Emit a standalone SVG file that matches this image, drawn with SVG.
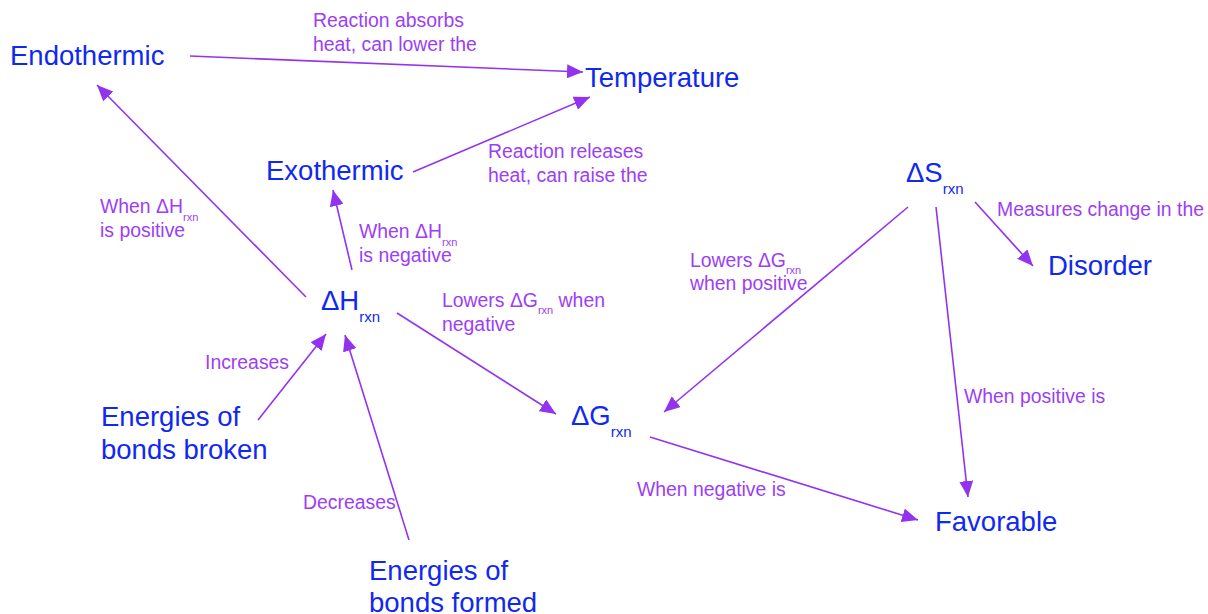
<svg xmlns="http://www.w3.org/2000/svg" width="1208" height="614" viewBox="0 0 1208 614">
<defs>
<style>
.n{font-family:"Liberation Sans",Arial,sans-serif;font-size:27.5px;fill:#1029f0}
.ns{font-size:15px}
.l{font-family:"Liberation Sans",Arial,sans-serif;font-size:19.4px;fill:#9c3ef5}
.ls{font-size:11px}
.e{stroke:#9333f0;stroke-width:1.6;fill:none;marker-end:url(#a)}
</style>
<marker id="a" markerUnits="userSpaceOnUse" markerWidth="18" markerHeight="14" refX="16" refY="7" orient="auto"><path d="M0,0 L16,7 L0,14 Z" fill="#9333f0"/></marker>
</defs>
<rect width="1208" height="614" fill="#fff"/>
<g id="connectors">
<line class="e" x1="190" y1="56" x2="583" y2="72"/>
<line class="e" x1="413" y1="172" x2="590" y2="97"/>
<line class="e" x1="306" y1="297" x2="97" y2="85"/>
<line class="e" x1="352" y1="270" x2="333" y2="190"/>
<line class="e" x1="397" y1="313" x2="556" y2="414"/>
<line class="e" x1="908" y1="207" x2="664" y2="412"/>
<line class="e" x1="975" y1="202" x2="1033" y2="266"/>
<line class="e" x1="936" y1="207" x2="968" y2="497"/>
<line class="e" x1="650" y1="437" x2="918" y2="520"/>
<line class="e" x1="258" y1="420" x2="326" y2="334"/>
<line class="e" x1="409" y1="540" x2="345" y2="335"/>
<g id="edge-labels">
<text class="l" x="313" y="27">Reaction absorbs</text>
<text class="l" x="313" y="51">heat, can lower the</text>
<text class="l" x="488" y="158">Reaction releases</text>
<text class="l" x="488" y="182">heat, can raise the</text>
<text class="l" x="100" y="213">When ΔH<tspan class="ls" dy="8">rxn</tspan></text>
<text class="l" x="100" y="237">is positive</text>
<text class="l" x="359" y="238">When ΔH<tspan class="ls" dy="8">rxn</tspan></text>
<text class="l" x="359" y="262">is negative</text>
<text class="l" x="442" y="307">Lowers ΔG<tspan class="ls" dy="7">rxn</tspan><tspan dy="-7"> when</tspan></text>
<text class="l" x="442" y="331">negative</text>
<text class="l" x="690" y="267">Lowers ΔG<tspan class="ls" dy="7">rxn</tspan></text>
<text class="l" x="690" y="290">when positive</text>
<text class="l" x="997" y="216">Measures change in the</text>
<text class="l" x="964" y="403">When positive is</text>
<text class="l" x="637" y="496">When negative is</text>
<text class="l" x="205" y="369">Increases</text>
<text class="l" x="303" y="509">Decreases</text>
</g>
</g>
<g id="endothermic"><text class="n" x="10" y="65">Endothermic</text></g>
<g id="temperature"><text class="n" x="585" y="87">Temperature</text></g>
<g id="exothermic"><text class="n" x="266" y="180">Exothermic</text></g>
<g id="dH"><text class="n" x="321" y="310">ΔH<tspan class="ns" dy="12">rxn</tspan></text></g>
<g id="dG"><text class="n" x="571" y="425">ΔG<tspan class="ns" dy="12">rxn</tspan></text></g>
<g id="dS"><text class="n" x="906" y="182">ΔS<tspan class="ns" dy="12">rxn</tspan></text></g>
<g id="disorder"><text class="n" x="1048" y="275">Disorder</text></g>
<g id="broken"><text class="n" x="101" y="426">Energies of</text><text class="n" x="101" y="459">bonds broken</text></g>
<g id="formed"><text class="n" x="369" y="580">Energies of</text><text class="n" x="369" y="612">bonds formed</text></g>
<g id="favorable"><text class="n" x="935" y="531">Favorable</text></g>
</svg>
